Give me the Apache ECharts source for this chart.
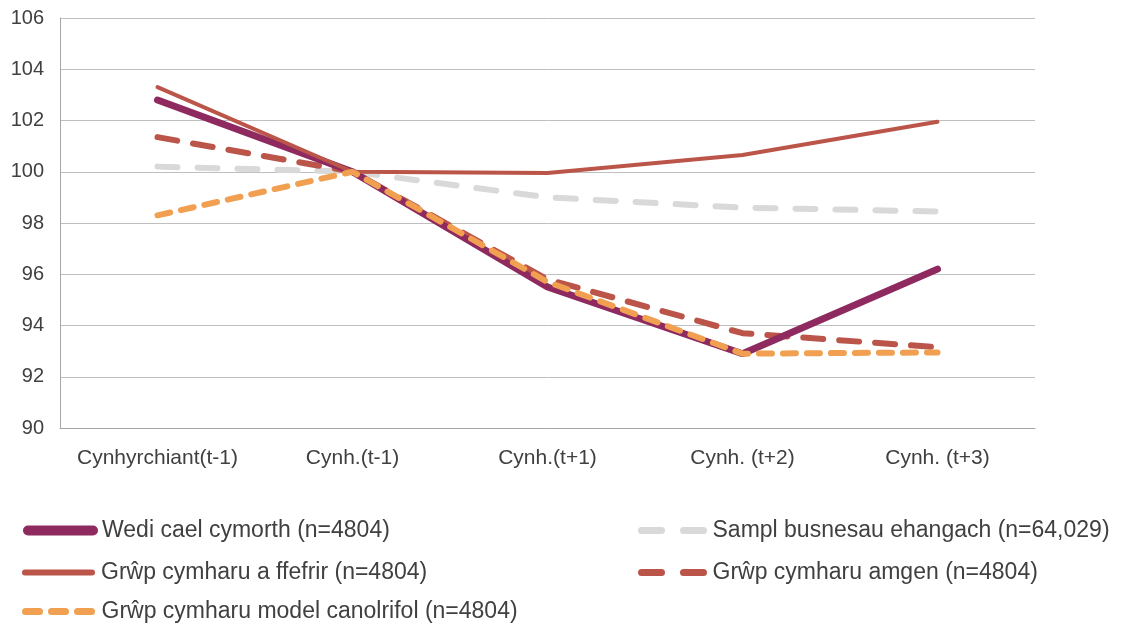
<!DOCTYPE html>
<html>
<head>
<meta charset="utf-8">
<script src="https://cdn.jsdelivr.net/npm/echarts@6/dist/echarts.min.js"></script>
<style>
html,body{margin:0;padding:0;background:#fff;}
#chart{width:1135px;height:623px;}
</style>
</head>
<body>
<div id="chart"></div>
<script>
const categories = ['Cynhyrchiant(t-1)', 'Cynh.(t-1)', 'Cynh.(t+1)', 'Cynh. (t+2)', 'Cynh. (t+3)'];
const yTicks = [90, 92, 94, 96, 98, 100, 102, 104, 106];

const nameWedi = 'Wedi cael cymorth (n=4804)';
const nameFfefrir = 'Grŵp cymharu a ffefrir (n=4804)';
const nameCanol = 'Grŵp cymharu model canolrifol (n=4804)';
const nameSampl = 'Sampl busnesau ehangach (n=64,029)';
const nameAmgen = 'Grŵp cymharu amgen (n=4804)';

const wedi = [102.8, 100.0, 95.5, 92.9, 96.2];
const ffefrir = [103.3, 100.0, 99.95, 100.65, 101.95];
const sampl = [100.2, 100.0, 99.0, 98.6, 98.45];
const amgen = [101.35, 100.0, 95.8, 93.7, 93.15];
const canol = [98.3, 100.0, 95.7, 92.9, 92.95];

const chart = echarts.init(document.getElementById('chart'));
const font = 'Liberation Sans, Arial, sans-serif';
const textColor = '#404040';

function legendAt(name, left, top, w, textPad, lineStyle) {
  return {
    data: [name], left: left, top: top, padding: 0, itemWidth: w, itemHeight: 12, itemGap: 0,
    textStyle: { fontFamily: font, fontSize: 23, color: textColor, padding: [0, 0, 0, textPad] },
    itemStyle: { opacity: 0 },
    lineStyle: lineStyle,
    selectedMode: false
  };
}

chart.setOption({
  animation: false,
  backgroundColor: '#ffffff',
  grid: { left: 60, right: 100, top: 18, bottom: 195 },
  legend: [
    legendAt(nameWedi, 23, 519, 65, 4, { width: 10, type: 'solid', cap: 'round' }),
    legendAt(nameFfefrir, 22, 561, 67, 4, { width: 6, type: 'solid', cap: 'round' }),
    legendAt(nameCanol, 22, 600, 67, 4, { width: 7, type: [14, 12], cap: 'round' }),
    legendAt(nameSampl, 638, 519, 62, 4, { width: 7, type: [20, 22], cap: 'round' }),
    legendAt(nameAmgen, 638, 561, 62, 4, { width: 7, type: [20, 22], cap: 'round' })
  ],
  xAxis: {
    type: 'category', data: categories, boundaryGap: true,
    axisLine: { show: true, lineStyle: { color: '#a6a6a6', width: 1 } },
    axisTick: { show: false },
    axisLabel: { fontFamily: font, fontSize: 21, color: textColor, margin: 20, interval: 0 }
  },
  yAxis: {
    type: 'value', min: 90, max: 106, interval: 2,
    axisLine: { show: true, lineStyle: { color: '#a6a6a6', width: 1 } },
    axisTick: { show: false },
    splitLine: { lineStyle: { color: '#bfbfbf', width: 1 } },
    axisLabel: { fontFamily: font, fontSize: 20, color: textColor, margin: 16 }
  },
  series: [
    { name: nameSampl, type: 'line', data: sampl, symbol: 'none', z: 2,
      lineStyle: { color: '#d9d9d9', width: 6, type: [20, 20], cap: 'round' }, itemStyle: { color: '#d9d9d9' } },
    { name: nameAmgen, type: 'line', data: amgen, symbol: 'none', z: 3,
      lineStyle: { color: '#bc5549', width: 6, type: [20, 16], cap: 'round' }, itemStyle: { color: '#bc5549' } },
    { name: nameWedi, type: 'line', data: wedi, symbol: 'none', z: 4,
      lineStyle: { color: '#8e2a5f', width: 7, cap: 'round' }, itemStyle: { color: '#8e2a5f' } },
    { name: nameFfefrir, type: 'line', data: ffefrir, symbol: 'none', z: 5,
      lineStyle: { color: '#bc5549', width: 4, cap: 'round' }, itemStyle: { color: '#bc5549' } },
    { name: nameCanol, type: 'line', data: canol, symbol: 'none', z: 6,
      lineStyle: { color: '#f0a050', width: 6, type: [13, 11], cap: 'round' }, itemStyle: { color: '#f0a050' } }
  ]
});
</script>
</body>
</html>
